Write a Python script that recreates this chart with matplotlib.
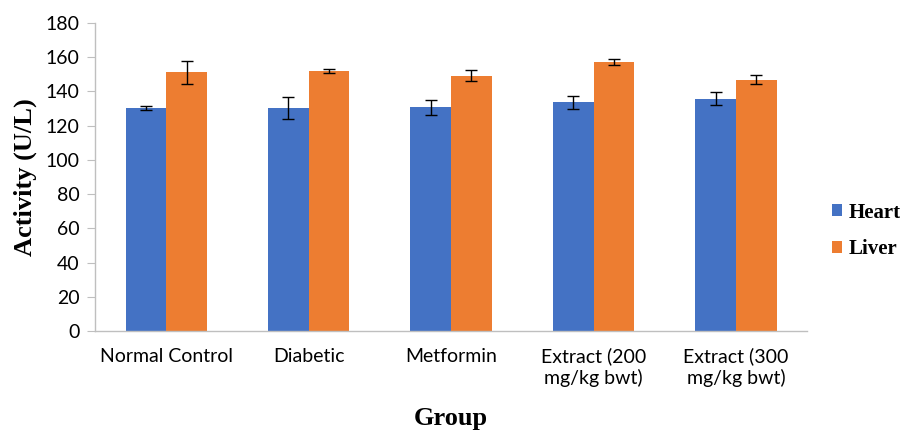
import matplotlib
matplotlib.use("Agg")
import matplotlib.pyplot as plt
import numpy as np

categories = ["Normal Control", "Diabetic", "Metformin", "Extract (200\nmg/kg bwt)", "Extract (300\nmg/kg bwt)"]
heart = [130.2, 130.1, 130.7, 133.6, 135.8]
heart_err = [1.2, 6.4, 4.2, 3.8, 3.7]
liver = [151.2, 152.1, 149.2, 157.2, 146.9]
liver_err = [6.7, 1.1, 3.2, 1.8, 2.6]
yticks = [0, 20, 40, 60, 80, 100, 120, 140, 160, 180]

fig = plt.figure(figsize=(9.09, 4.30), dpi=100)
ax = fig.add_axes([0.1045, 0.2302, 0.7835, 0.7163])

x = np.arange(len(categories))
w = 0.285
ax.bar(x - w/2, heart, w, color="#4472C4", label="Heart", yerr=heart_err,
       error_kw=dict(ecolor="black", elinewidth=1, capsize=4.5, capthick=1))
ax.bar(x + w/2, liver, w, color="#ED7D31", label="Liver", yerr=liver_err,
       error_kw=dict(ecolor="black", elinewidth=1, capsize=4.5, capthick=1))

ax.set_xlim(-0.5, len(categories) - 0.5)
ax.set_ylim(0, 180)
ax.set_yticks(yticks)
ax.set_xticks(x)
ax.set_xticklabels(categories, fontfamily="Lato", fontsize=14)
for lab in ax.get_yticklabels():
    lab.set_fontfamily("Lato")
    lab.set_fontsize(14)

for s in ["top", "right"]:
    ax.spines[s].set_visible(False)
for s in ["left", "bottom"]:
    ax.spines[s].set_color("#BFBFBF")
    ax.spines[s].set_linewidth(1)
ax.tick_params(axis="y", length=6, color="#BFBFBF", pad=5)
ax.tick_params(axis="x", length=0, pad=12)

ax.set_ylabel("Activity (U/L)", fontfamily="Liberation Serif", fontweight="bold", fontsize=19, labelpad=6)
ax.set_xlabel("Group", fontfamily="Liberation Serif", fontweight="bold", fontsize=19, labelpad=15)

leg = ax.legend(loc="center left", bbox_to_anchor=(1.008, 0.325), frameon=False,
                prop=dict(family="Liberation Serif", weight="bold", size=15),
                handlelength=0.5, handleheight=0.5, handletextpad=0.3, labelspacing=0.8)

fig.savefig("out.png", dpi=100)
